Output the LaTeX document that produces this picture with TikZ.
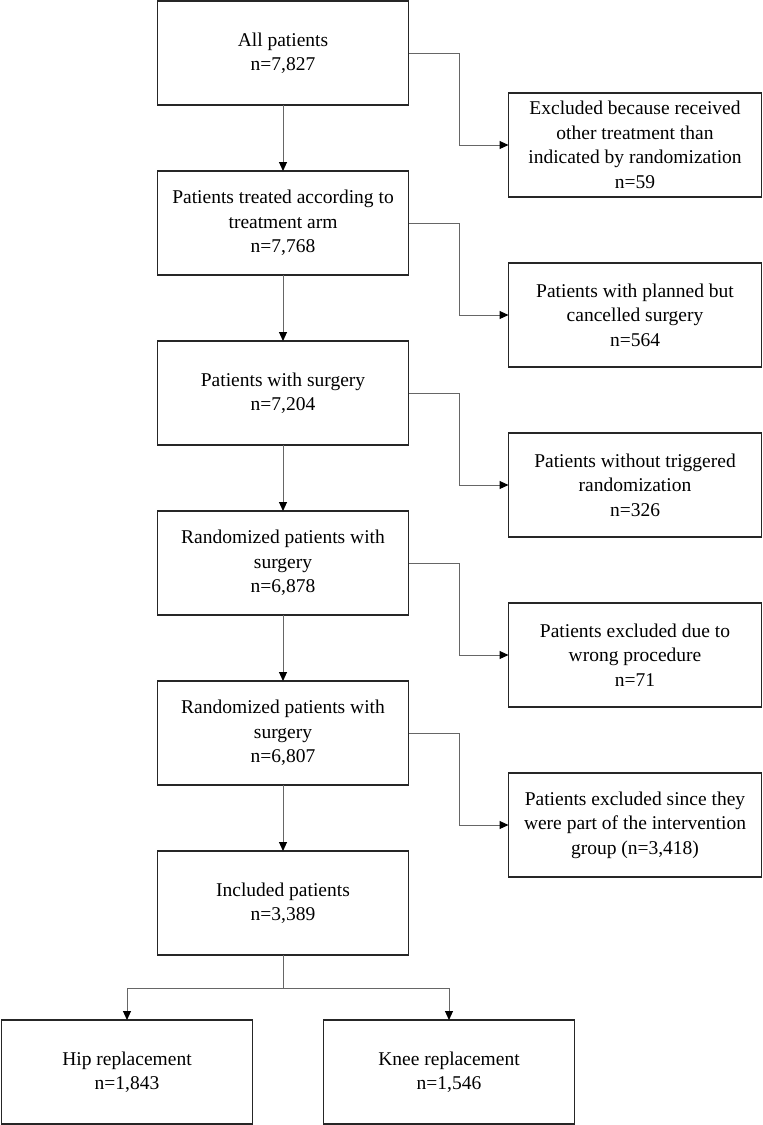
\documentclass[tikz,border=0pt]{standalone}
\usepackage{fontspec}
\setmainfont{Liberation Serif}
\usetikzlibrary{positioning,arrows.meta}

\begin{document}
\begin{tikzpicture}[>={Triangle[length=9pt,width=8pt,color=black]}, node distance=66pt,
  box/.style={draw=black!85, line width=1.3pt, minimum width=251pt, minimum height=104pt,
    align=center, outer sep=0pt, inner sep=2pt, font=\fontsize{19.5}{24.5}\selectfont},
  sidebox/.style={box, minimum width=253pt},
  link/.style={draw=black!60, line width=1pt, ->}]
\useasboundingbox (0,0) rectangle (763pt,-1125pt);

\node[box] (m1) at (283pt,-53pt) {All patients\\n=7,827};
\node[box, below=of m1] (m2) {Patients treated according to\\treatment arm\\n=7,768};
\node[box, below=of m2] (m3) {Patients with surgery\\n=7,204};
\node[box, below=of m3] (m4) {Randomized patients with\\surgery\\n=6,878};
\node[box, below=of m4] (m5) {Randomized patients with\\surgery\\n=6,807};
\node[box, below=of m5] (m6) {Included patients\\n=3,389};

  \node[sidebox, right=100pt of m1, yshift=-92pt] (x1) {Excluded because received\\other treatment than\\indicated by randomization\\n=59};
  \node[sidebox, right=100pt of m2, yshift=-92pt] (x2) {Patients with planned but\\cancelled surgery\\n=564};
  \node[sidebox, right=100pt of m3, yshift=-92pt] (x3) {Patients without triggered\\randomization\\n=326};
  \node[sidebox, right=100pt of m4, yshift=-92pt] (x4) {Patients excluded due to\\wrong procedure\\n=71};
  \node[sidebox, right=100pt of m5, yshift=-92pt] (x5) {Patients excluded since they\\were part of the intervention\\group (n=3,418)};

  \node[box, below=65pt of m6, xshift=-156pt] (hip) {Hip replacement\\n=1,843};
  \node[box, below=65pt of m6, xshift=166pt] (knee) {Knee replacement\\n=1,546};

% down the main column
\foreach \a/\b in {m1/m2, m2/m3, m3/m4, m4/m5, m5/m6}
  \draw[link] (\a) -- (\b);

% exclusions
\foreach \i in {1,...,5}
  \draw[link] (m\i.east) -- ++(51pt,0) |- (x\i.west);

% split
\draw[link] (m6.south) -- ++(0,-33pt) -| (hip.north);
\draw[link] (m6.south) -- ++(0,-33pt) -| (knee.north);

\end{tikzpicture}
\end{document}
